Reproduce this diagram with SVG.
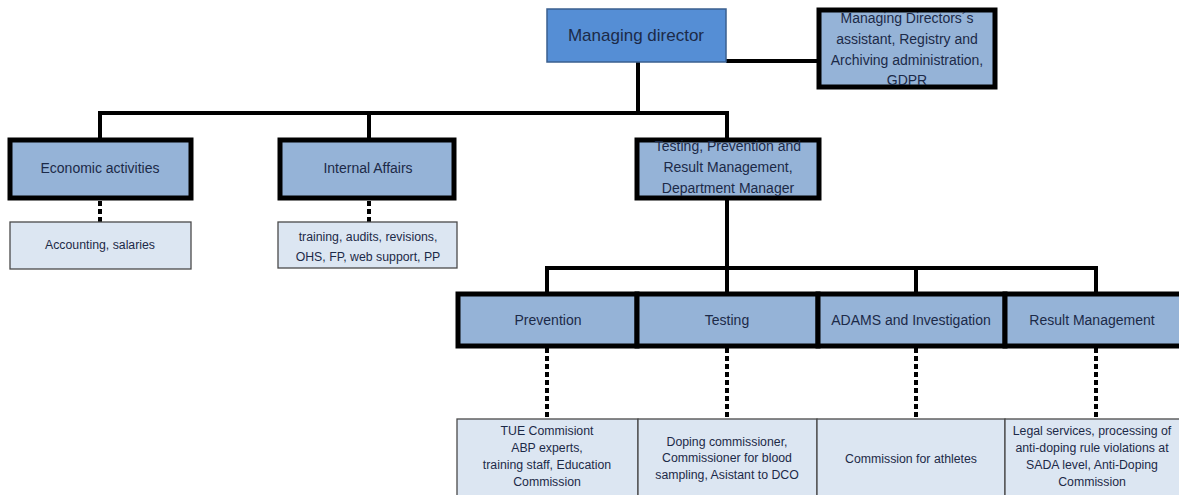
<svg xmlns="http://www.w3.org/2000/svg" width="1179" height="495" viewBox="0 0 1179 495">
<style>
text{font-family:"Liberation Sans",Arial,sans-serif;fill:#1c2a48;text-anchor:middle;dominant-baseline:central}
.t1{font-size:17px}
.t2{font-size:14px}
.t3{font-size:12.3px}
.b1{fill:#558ED5;stroke:#3a5f8f;stroke-width:1.5}
.b2{fill:#95B3D7;stroke:#000;stroke-width:5}
.b3{fill:#DCE6F2;stroke:#4a4a4a;stroke-width:1.3}
.c{fill:none;stroke:#000;stroke-width:4}
.d{fill:none;stroke:#000;stroke-width:4;stroke-dasharray:5 3}
</style>
<rect width="1179" height="495" fill="#fff"/>
<g id="connectors">
<path class="c" d="M726,61 H819"/>
<path class="c" d="M638,62 V113"/>
<path class="c" d="M98,113 H729"/>
<path class="c" d="M100,113 V140"/>
<path class="c" d="M369,113 V140"/>
<path class="c" d="M727,113 V140"/>
<path class="c" d="M727,198 V294"/>
<path class="c" d="M545,268 H1098"/>
<path class="c" d="M547,268 V294"/>
<path class="c" d="M916,268 V294"/>
<path class="c" d="M1096,268 V294"/>
<path class="d" d="M100,201 V222"/>
<path class="d" d="M369,201 V222"/>
<path class="d" d="M547,348 V419"/>
<path class="d" d="M727,348 V419"/>
<path class="d" d="M916,348 V419"/>
<path class="d" d="M1096,348 V419"/>
</g>
<g id="managing-director">
<rect class="b1" x="547" y="9" width="179" height="53"/>
<text class="t1" x="636" y="35">Managing director</text>
</g>
<g id="assistant">
<rect class="b2" x="819" y="10" width="176" height="77"/>
<text class="t2" x="907" y="18">Managing Directors´s</text>
<text class="t2" x="907" y="39">assistant, Registry and</text>
<text class="t2" x="907" y="60">Archiving administration,</text>
<text class="t2" x="907" y="80">GDPR</text>
</g>
<g id="economic">
<rect class="b2" x="10" y="140" width="181" height="58"/>
<text class="t2" x="100" y="168">Economic activities</text>
</g>
<g id="internal">
<rect class="b2" x="280" y="140" width="174" height="58"/>
<text class="t2" x="368" y="168">Internal Affairs</text>
</g>
<g id="testing-dept">
<rect class="b2" x="637" y="140" width="182" height="58"/>
<text class="t2" x="728" y="146">Testing, Prevention and</text>
<text class="t2" x="728" y="167">Result Management,</text>
<text class="t2" x="728" y="188">Department Manager</text>
</g>
<g id="accounting">
<rect class="b3" x="10" y="222" width="181" height="47"/>
<text class="t3" x="100" y="245">Accounting, salaries</text>
</g>
<g id="internal-sub">
<rect class="b3" x="278" y="222" width="179" height="46"/>
<text class="t3" x="368" y="237">training, audits, revisions,</text>
<text class="t3" x="368" y="257">OHS, FP, web support, PP</text>
</g>
<g id="prevention">
<rect class="b2" x="458" y="294" width="179" height="52"/>
<text class="t2" x="548" y="320">Prevention</text>
</g>
<g id="testing">
<rect class="b2" x="637" y="294" width="181" height="52"/>
<text class="t2" x="727" y="320">Testing</text>
</g>
<g id="adams">
<rect class="b2" x="818" y="294" width="187" height="52"/>
<text class="t2" x="911" y="320">ADAMS and Investigation</text>
</g>
<g id="result">
<rect class="b2" x="1005" y="294" width="180" height="52"/>
<text class="t2" x="1092" y="320">Result Management</text>
</g>
<g id="prevention-sub">
<rect class="b3" x="457" y="419" width="181" height="85"/>
<text class="t3" x="547" y="431">TUE Commisiont</text>
<text class="t3" x="547" y="448">ABP experts,</text>
<text class="t3" x="547" y="465">training staff, Education</text>
<text class="t3" x="547" y="482">Commission</text>
</g>
<g id="testing-sub">
<rect class="b3" x="638" y="419" width="179" height="85"/>
<text class="t3" x="727" y="442">Doping commissioner,</text>
<text class="t3" x="727" y="458">Commissioner for blood</text>
<text class="t3" x="727" y="475">sampling, Asistant to DCO</text>
</g>
<g id="adams-sub">
<rect class="b3" x="817" y="419" width="188" height="85"/>
<text class="t3" x="911" y="459">Commission for athletes</text>
</g>
<g id="result-sub">
<rect class="b3" x="1005" y="419" width="180" height="85"/>
<text class="t3" x="1092" y="431">Legal services, processing of</text>
<text class="t3" x="1092" y="448">anti-doping rule violations at</text>
<text class="t3" x="1092" y="465">SADA level, Anti-Doping</text>
<text class="t3" x="1092" y="482">Commission</text>
</g>
</svg>
